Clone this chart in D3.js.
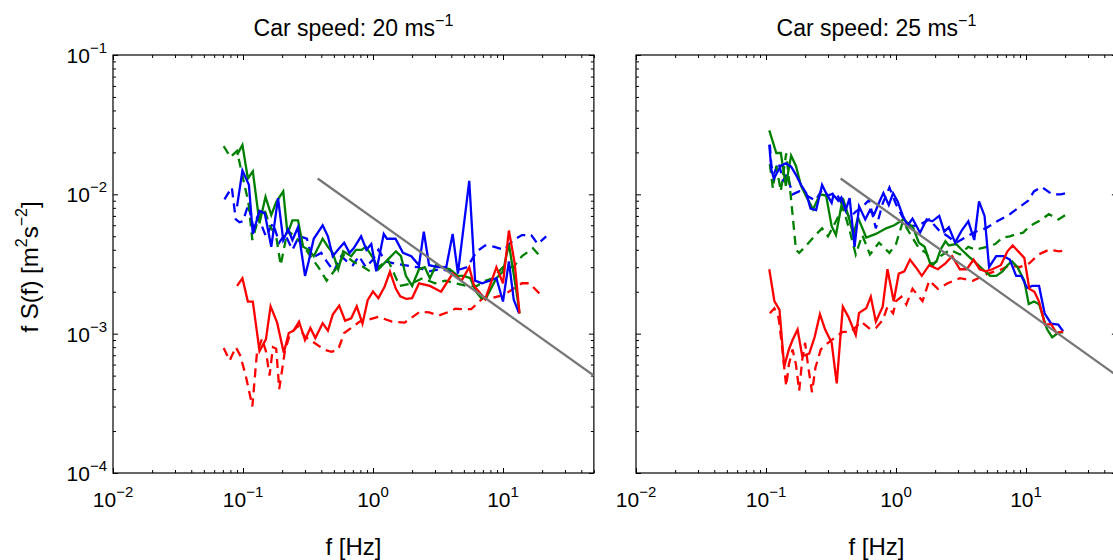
<!DOCTYPE html>
<html>
<head>
<meta charset="utf-8">
<script src="https://cdn.jsdelivr.net/npm/d3@7"></script>
<style>
body { margin: 0; background: #fff; }
svg text { font-family: "Liberation Sans", Arial, Helvetica, sans-serif; fill: #000; }
</style>
</head>
<body>
<div id="chart"></div>
<script>
// ---- data: [f (Hz), f S(f) (m^2 s^-2)] ----

// car speed 20 m/s
var s20_blue = [[0.09,0.0082],[0.099,0.0148],[0.111,0.0117],[0.119,0.0052],[0.134,0.0076],[0.147,0.0073],[0.165,0.0042],[0.186,0.0094],[0.204,0.0047],[0.222,0.0056],[0.24,0.0047],[0.265,0.0058],[0.28,0.0040],[0.30,0.0026],[0.32,0.0033],[0.35,0.0048],[0.41,0.0060],[0.45,0.0050],[0.49,0.0036],[0.55,0.0041],[0.60,0.0045],[0.66,0.0038],[0.71,0.0041],[0.81,0.0050],[0.89,0.0040],[0.97,0.0044],[1.06,0.0028],[1.21,0.0052],[1.28,0.0048],[1.49,0.0048],[1.7,0.0038],[1.97,0.0036],[2.26,0.0031],[2.46,0.0054],[2.7,0.0031],[3.17,0.0030],[3.66,0.0030],[4.1,0.0052],[4.5,0.0027],[5.5,0.0125],[6.1,0.0024],[6.9,0.0023],[7.9,0.0024],[8.9,0.0025],[10,0.0017],[11.1,0.0033],[12.1,0.00175],[13.3,0.0014]];
var s20_blue_dash = [[0.072,0.0092],[0.082,0.0112],[0.088,0.0066],[0.094,0.0063],[0.1,0.0064],[0.11,0.0085],[0.12,0.0058],[0.13,0.0070],[0.15,0.0050],[0.17,0.0062],[0.19,0.0045],[0.21,0.0052],[0.24,0.0040],[0.27,0.0050],[0.31,0.0048],[0.34,0.0035],[0.40,0.0038],[0.44,0.0033],[0.50,0.0028],[0.57,0.0036],[0.63,0.0033],[0.70,0.0031],[0.78,0.0036],[0.88,0.0030],[1.0,0.0034],[1.1,0.0040],[1.25,0.0033],[1.45,0.0032],[1.75,0.0031],[2.2,0.0030],[2.7,0.0028],[3.3,0.0029],[4.0,0.0028],[4.7,0.0029],[5.3,0.0030],[6.3,0.0039],[7.3,0.0043],[8.6,0.0042],[10.2,0.0040],[12,0.0047],[14,0.0051],[16.5,0.0051],[18.5,0.0044],[21.5,0.0050]];
var s20_green = [[0.09,0.0192],[0.099,0.0226],[0.109,0.0130],[0.119,0.0146],[0.134,0.0062],[0.149,0.0096],[0.165,0.0071],[0.18,0.0088],[0.204,0.0105],[0.22,0.0052],[0.24,0.0065],[0.265,0.0065],[0.29,0.0042],[0.32,0.0040],[0.35,0.0036],[0.41,0.0048],[0.45,0.0042],[0.49,0.0038],[0.54,0.0029],[0.59,0.0039],[0.68,0.0036],[0.74,0.0040],[0.82,0.0040],[0.88,0.0042],[1.0,0.0035],[1.1,0.0029],[1.3,0.0034],[1.5,0.0039],[1.64,0.0036],[1.79,0.0026],[2.0,0.0022],[2.26,0.0029],[2.5,0.0030],[2.74,0.0025],[3.05,0.0031],[3.45,0.0030],[3.9,0.0029],[4.5,0.0026],[5.0,0.0026],[5.6,0.0025],[6.2,0.0020],[6.8,0.0018],[7.4,0.0018],[8.9,0.0025],[10,0.0028],[11.1,0.0044],[12.7,0.0020],[13.4,0.0014]];
var s20_green_dash = [[0.071,0.0222],[0.08,0.0185],[0.09,0.0205],[0.1,0.0130],[0.11,0.0088],[0.118,0.0047],[0.13,0.0065],[0.145,0.0080],[0.16,0.0060],[0.18,0.0050],[0.195,0.0031],[0.22,0.0055],[0.25,0.0050],[0.29,0.0043],[0.33,0.0036],[0.38,0.0030],[0.44,0.0024],[0.53,0.0030],[0.6,0.0037],[0.7,0.0033],[0.8,0.0031],[0.95,0.0028],[1.1,0.0030],[1.3,0.0034],[1.6,0.0022],[2.0,0.0023],[2.4,0.0025],[3.0,0.0023],[3.6,0.0024],[4.3,0.0023],[5.3,0.0022],[6.3,0.0022],[7.3,0.0024],[8.3,0.0025],[10,0.0030],[12,0.0030],[14,0.0036],[17,0.0041],[19.8,0.0035]];
var s20_red = [[0.09,0.0022],[0.099,0.0025],[0.109,0.0017],[0.119,0.0017],[0.134,0.00075],[0.15,0.00091],[0.163,0.00157],[0.183,0.0012],[0.206,0.00073],[0.225,0.00101],[0.245,0.00105],[0.27,0.00122],[0.30,0.00090],[0.33,0.00110],[0.36,0.00093],[0.41,0.00119],[0.45,0.00105],[0.49,0.00137],[0.55,0.00159],[0.61,0.00124],[0.68,0.00129],[0.75,0.00157],[0.83,0.00118],[0.91,0.00174],[1.0,0.00201],[1.1,0.00180],[1.23,0.00218],[1.35,0.00278],[1.5,0.0021],[1.62,0.00185],[1.8,0.00178],[2.0,0.00180],[2.26,0.0023],[2.74,0.0022],[3.34,0.0020],[4.1,0.0027],[4.8,0.0024],[5.5,0.0030],[6.0,0.0022],[7.3,0.00177],[8.9,0.0030],[10,0.0023],[11.1,0.0055],[12.3,0.0032],[13.4,0.0014]];
var s20_red_dash = [[0.071,0.00079],[0.079,0.00064],[0.088,0.00080],[0.095,0.00070],[0.105,0.00050],[0.118,0.00030],[0.128,0.00073],[0.14,0.00092],[0.15,0.00075],[0.16,0.00050],[0.17,0.00080],[0.18,0.00078],[0.19,0.00040],[0.21,0.00075],[0.23,0.00100],[0.265,0.00113],[0.3,0.00095],[0.36,0.00085],[0.42,0.00077],[0.48,0.00074],[0.54,0.00077],[0.6,0.00101],[0.7,0.00112],[0.79,0.00122],[0.9,0.00125],[1.1,0.00132],[1.4,0.00122],[1.75,0.0012],[2.3,0.00144],[2.7,0.00142],[3.2,0.00135],[3.8,0.00143],[4.3,0.00151],[5.0,0.00150],[5.7,0.0015],[7.0,0.0018],[8.2,0.0018],[10.2,0.0019],[12,0.0021],[14,0.0023],[16,0.0023],[19.5,0.0019]];

// car speed 25 m/s
var s25_blue = [[0.106,0.0226],[0.11,0.0150],[0.115,0.0130],[0.123,0.0146],[0.13,0.0160],[0.142,0.0167],[0.156,0.0158],[0.17,0.0138],[0.186,0.0117],[0.204,0.0102],[0.22,0.0079],[0.243,0.0077],[0.27,0.0117],[0.29,0.0102],[0.32,0.0087],[0.33,0.0099],[0.36,0.0090],[0.38,0.0095],[0.41,0.0077],[0.44,0.0094],[0.48,0.0042],[0.52,0.0082],[0.58,0.0066],[0.63,0.0077],[0.68,0.0072],[0.74,0.0087],[0.8,0.0102],[0.88,0.0084],[0.95,0.0102],[1.03,0.0089],[1.13,0.0070],[1.23,0.0060],[1.34,0.0067],[1.53,0.0053],[1.72,0.0066],[1.9,0.0064],[2.15,0.0070],[2.35,0.0054],[2.55,0.0058],[2.85,0.0045],[3.2,0.0055],[3.6,0.0064],[4.0,0.0047],[4.35,0.0089],[4.8,0.0070],[5.2,0.0030],[5.9,0.0036],[6.7,0.0036],[7.5,0.0034],[8.4,0.0026],[9.2,0.0026],[10.2,0.00213],[11.2,0.0022],[12.6,0.0022],[13.9,0.0014],[15.6,0.00118],[17.7,0.00116],[19.3,0.00104]];
var s25_blue_dash = [[0.107,0.0228],[0.11,0.0160],[0.115,0.0140],[0.125,0.0170],[0.135,0.0125],[0.145,0.0140],[0.16,0.0100],[0.18,0.0105],[0.21,0.0097],[0.24,0.0090],[0.27,0.0108],[0.3,0.0098],[0.345,0.0103],[0.39,0.0083],[0.44,0.0068],[0.49,0.0075],[0.55,0.0081],[0.62,0.0091],[0.7,0.0057],[0.79,0.0086],[0.89,0.0112],[1.0,0.0085],[1.13,0.0068],[1.27,0.0059],[1.5,0.0060],[1.8,0.0066],[2.15,0.0055],[2.5,0.0050],[2.9,0.0045],[3.4,0.0049],[4.1,0.0054],[4.9,0.0057],[6.0,0.0064],[7.5,0.0072],[8.9,0.0081],[10.4,0.0090],[11.5,0.0105],[13.2,0.0113],[15.9,0.0100],[18.5,0.0100],[21.5,0.0103]];
var s25_green = [[0.106,0.0288],[0.12,0.0198],[0.13,0.0198],[0.142,0.0115],[0.156,0.0190],[0.17,0.0160],[0.186,0.0115],[0.2,0.0100],[0.23,0.0078],[0.26,0.0100],[0.29,0.0098],[0.32,0.0059],[0.345,0.0051],[0.39,0.0094],[0.43,0.0070],[0.47,0.0051],[0.51,0.0068],[0.59,0.0049],[0.7,0.0052],[0.84,0.0057],[0.97,0.0060],[1.14,0.0066],[1.35,0.0058],[1.5,0.0045],[1.66,0.0042],[1.85,0.0031],[2.05,0.0033],[2.2,0.0040],[2.4,0.0046],[2.55,0.0043],[2.9,0.0044],[3.2,0.0040],[3.6,0.0036],[4.0,0.0033],[4.65,0.0029],[5.3,0.0026],[5.9,0.0026],[6.6,0.0028],[7.2,0.0031],[7.8,0.0033],[8.6,0.0030],[9.7,0.0024],[10.5,0.00163],[11.5,0.0017],[12.6,0.00163],[14.5,0.00108],[15.9,0.00094],[17.8,0.00102],[19.3,0.00102]];
var s25_green_dash = [[0.107,0.0165],[0.113,0.0110],[0.12,0.0160],[0.13,0.0105],[0.143,0.0197],[0.156,0.0092],[0.17,0.0040],[0.18,0.0038],[0.2,0.0042],[0.24,0.0051],[0.27,0.0057],[0.3,0.0050],[0.345,0.0064],[0.39,0.0081],[0.44,0.0055],[0.49,0.0037],[0.55,0.0051],[0.63,0.0037],[0.74,0.0045],[0.89,0.0038],[1.0,0.0044],[1.13,0.0064],[1.3,0.0051],[1.5,0.0041],[1.7,0.0038],[1.92,0.0031],[2.2,0.0036],[2.6,0.0040],[3.1,0.0037],[3.6,0.0042],[4.1,0.0040],[5.0,0.0042],[5.8,0.0044],[6.6,0.0049],[7.5,0.0050],[8.5,0.0052],[9.5,0.0053],[10.6,0.0059],[12.5,0.0064],[15.0,0.0072],[17.8,0.0066],[21.5,0.0074]];
var s25_red = [[0.106,0.0029],[0.116,0.00171],[0.127,0.00148],[0.138,0.00058],[0.15,0.00077],[0.16,0.00090],[0.175,0.00107],[0.19,0.00069],[0.215,0.00072],[0.237,0.00095],[0.26,0.00138],[0.285,0.00107],[0.32,0.00086],[0.35,0.00044],[0.39,0.00156],[0.43,0.00132],[0.49,0.00098],[0.52,0.00141],[0.59,0.00152],[0.64,0.00184],[0.7,0.00122],[0.79,0.00156],[0.86,0.0029],[0.96,0.00171],[1.05,0.0027],[1.16,0.0028],[1.28,0.0034],[1.42,0.0030],[1.58,0.0026],[1.8,0.0031],[2.1,0.0029],[2.4,0.0032],[2.7,0.0036],[3.1,0.0029],[3.5,0.0029],[3.95,0.0034],[4.4,0.0029],[4.9,0.0028],[5.5,0.0029],[6.4,0.0031],[7.2,0.0039],[7.9,0.0043],[9.7,0.0035],[10.6,0.0021],[11.6,0.0020],[12.6,0.0017],[14,0.00116],[15.6,0.00117],[17.2,0.00101],[19.3,0.00104]];
var s25_red_dash = [[0.107,0.0014],[0.116,0.00152],[0.125,0.0013],[0.133,0.0008],[0.143,0.00042],[0.15,0.0006],[0.16,0.00077],[0.17,0.0006],[0.18,0.00039],[0.19,0.00065],[0.2,0.00086],[0.21,0.0006],[0.226,0.00038],[0.24,0.00057],[0.264,0.00077],[0.3,0.00086],[0.345,0.00095],[0.39,0.00103],[0.45,0.00103],[0.54,0.00122],[0.63,0.00108],[0.7,0.0011],[0.79,0.00125],[0.86,0.00156],[0.95,0.0014],[1.0,0.00171],[1.1,0.00184],[1.2,0.00162],[1.34,0.0021],[1.6,0.00171],[1.8,0.0024],[2.1,0.0021],[2.5,0.0023],[3.1,0.0025],[3.9,0.0024],[5.1,0.0027],[6.5,0.0029],[7.5,0.0031],[8.9,0.0030],[10.6,0.0032],[12.5,0.0037],[15,0.0040],[18,0.0039],[21,0.0040]];

// -2/3 reference line, same in both panels
var ref_line = [[0.375,0.0130],[50,0.0005]];

var titles = ["20", "25"];
var x_ticks = [0.01, 0.1, 1, 10];
var x_tick_exp = ["\u22122", "\u22121", "0", "1"];
var y_ticks = [1e-4, 1e-3, 1e-2, 1e-1];
var y_tick_exp = ["\u22124", "\u22123", "\u22122", "\u22121"];

// ---- drawing ----
var W = 1113, H = 560;
var top_y = 55, bottom_y = 473;
var decade = 130;

var svg = d3.select("#chart").append("svg")
    .attr("width", W)
    .attr("height", H);

function minor_ticks(lo, hi) {
    var out = [];
    for (var d = lo; d < hi; d *= 10) {
        for (var m = 2; m <= 9; m++) {
            if (m * d <= hi) out.push(m * d);
        }
    }
    return out;
}

function draw_panel(left, speed, series, show_y_labels) {
    var right = left + decade * Math.log10(50 / 0.01);
    var x = d3.scaleLog().domain([0.01, 50]).range([left, right]);
    var y = d3.scaleLog().domain([1e-4, 1e-1]).range([bottom_y, top_y]);

    var g = svg.append("g");
    var clipId = "clip" + speed;
    g.append("clipPath").attr("id", clipId)
        .append("rect")
        .attr("x", left).attr("y", top_y)
        .attr("width", right - left).attr("height", bottom_y - top_y);

    var xMinor = minor_ticks(0.01, 50);
    var yMinor = minor_ticks(1e-4, 1e-1);

    // inward ticks on all four sides, minor 3px, major 5px
    var axes = [
        [d3.axisBottom(x), "translate(0," + bottom_y + ")", xMinor, x_ticks],
        [d3.axisTop(x), "translate(0," + top_y + ")", xMinor, x_ticks],
        [d3.axisLeft(y), "translate(" + left + ",0)", yMinor, y_ticks],
        [d3.axisRight(y), "translate(" + right + ",0)", yMinor, y_ticks]
    ];
    axes.forEach(function(a) {
        [[a[2], -3], [a[3], -5]].forEach(function(t) {
            g.append("g")
                .attr("transform", a[1])
                .call(a[0].tickValues(t[0]).tickSize(t[1]).tickFormat(""))
                .call(function(s) { s.select(".domain").remove(); })
                .selectAll("line").attr("stroke", "#000");
        });
    });

    // frame
    g.append("rect")
        .attr("x", left).attr("y", top_y)
        .attr("width", right - left).attr("height", bottom_y - top_y)
        .attr("fill", "none")
        .attr("stroke", "#000")
        .attr("stroke-width", 1.2);

    // data lines
    var line = d3.line()
        .x(function(d) { return x(d[0]); })
        .y(function(d) { return y(d[1]); });

    var lines = g.append("g").attr("clip-path", "url(#" + clipId + ")");
    series.forEach(function(s) {
        lines.append("path")
            .datum(s.data)
            .attr("d", line)
            .attr("fill", "none")
            .attr("stroke", s.color)
            .attr("stroke-width", 2.3)
            .attr("stroke-dasharray", s.dash ? "9,6" : null);
    });

    // tick labels
    x_ticks.forEach(function(v, i) {
        var t = g.append("text")
            .attr("x", x(v)).attr("y", 507)
            .attr("text-anchor", "middle")
            .style("font-size", "21px");
        t.append("tspan").text("10");
        t.append("tspan").attr("dy", -10).style("font-size", "15px").text(x_tick_exp[i]);
    });
    if (show_y_labels) {
        y_ticks.forEach(function(v, i) {
            var t = g.append("text")
                .attr("x", 107).attr("y", y(v) + 8)
                .attr("text-anchor", "end")
                .style("font-size", "21px");
            t.append("tspan").text("10");
            t.append("tspan").attr("dy", -10).style("font-size", "15px").text(y_tick_exp[i]);
        });
    }

    // title and x label
    var mid = (left + right) / 2;
    var tt = g.append("text")
        .attr("x", mid).attr("y", 36)
        .attr("text-anchor", "middle")
        .style("font-size", "23px");
    tt.append("tspan").text("Car speed: " + speed + " ms");
    tt.append("tspan").attr("dy", -10).style("font-size", "16px").text("\u22121");

    g.append("text")
        .attr("x", mid).attr("y", 555)
        .attr("text-anchor", "middle")
        .style("font-size", "24px")
        .text("f [Hz]");
}

var blue = "#0000ff", green = "#008000", red = "#ff0000", grey = "#777777";

draw_panel(113, titles[0], [
    { data: s20_blue_dash, color: blue, dash: true },
    { data: s20_green_dash, color: green, dash: true },
    { data: s20_red_dash, color: red, dash: true },
    { data: s20_green, color: green },
    { data: s20_blue, color: blue },
    { data: s20_red, color: red },
    { data: ref_line, color: grey }
], true);

draw_panel(636, titles[1], [
    { data: s25_blue_dash, color: blue, dash: true },
    { data: s25_green_dash, color: green, dash: true },
    { data: s25_red_dash, color: red, dash: true },
    { data: s25_green, color: green },
    { data: s25_blue, color: blue },
    { data: s25_red, color: red },
    { data: ref_line, color: grey }
], false);

// y axis label
var yl = svg.append("text")
    .attr("transform", "translate(38,267) rotate(-90)")
    .attr("text-anchor", "middle")
    .style("font-size", "24px");
yl.append("tspan").text("f S(f) [m");
yl.append("tspan").attr("dy", -11).style("font-size", "16px").text("2");
yl.append("tspan").attr("dy", 11).text("s");
yl.append("tspan").attr("dy", -11).style("font-size", "16px").text("\u22122");
yl.append("tspan").attr("dy", 11).text("]");
</script>
</body>
</html>
